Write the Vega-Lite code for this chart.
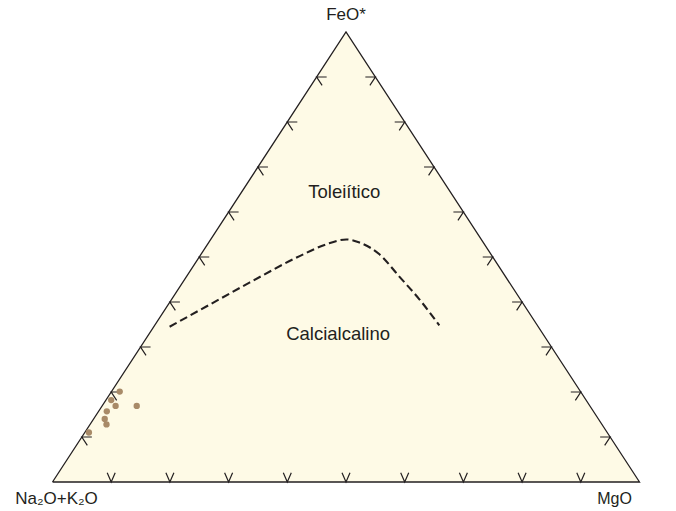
{
  "$schema": "https://vega.github.io/schema/vega-lite/v6.json",
  "width": 587,
  "height": 450,
  "autosize": "none",
  "padding": {"left": 52.5, "top": 32, "right": 36.5, "bottom": 29},
  "background": "white",
  "config": {"view": {"stroke": null}},
  "datasets": {
    "frame": [
      {"A": 100, "F": 0, "M": 0, "o": 0},
      {"A": 0, "F": 100, "M": 0, "o": 1},
      {"A": 0, "F": 0, "M": 100, "o": 2},
      {"A": 100, "F": 0, "M": 0, "o": 3}
    ],
    "ticks": [
      {"edge": "base", "F": 0, "M": 10}, {"edge": "base", "F": 0, "M": 20}, {"edge": "base", "F": 0, "M": 30},
      {"edge": "base", "F": 0, "M": 40}, {"edge": "base", "F": 0, "M": 50}, {"edge": "base", "F": 0, "M": 60},
      {"edge": "base", "F": 0, "M": 70}, {"edge": "base", "F": 0, "M": 80}, {"edge": "base", "F": 0, "M": 90},
      {"edge": "left", "F": 10, "M": 0}, {"edge": "left", "F": 20, "M": 0}, {"edge": "left", "F": 30, "M": 0},
      {"edge": "left", "F": 40, "M": 0}, {"edge": "left", "F": 50, "M": 0}, {"edge": "left", "F": 60, "M": 0},
      {"edge": "left", "F": 70, "M": 0}, {"edge": "left", "F": 80, "M": 0}, {"edge": "left", "F": 90, "M": 0},
      {"edge": "right", "F": 10, "M": 90}, {"edge": "right", "F": 20, "M": 80}, {"edge": "right", "F": 30, "M": 70},
      {"edge": "right", "F": 40, "M": 60}, {"edge": "right", "F": 50, "M": 50}, {"edge": "right", "F": 60, "M": 40},
      {"edge": "right", "F": 70, "M": 30}, {"edge": "right", "F": 80, "M": 20}, {"edge": "right", "F": 90, "M": 10}
    ],
    "boundary": [
      {"i": 0, "F": 34.5, "M": 2.7},
      {"i": 1, "F": 39.0, "M": 6.7},
      {"i": 2, "F": 44.3, "M": 11.4},
      {"i": 3, "F": 50.2, "M": 17.0},
      {"i": 4, "F": 52.8, "M": 20.2},
      {"i": 5, "F": 53.9, "M": 23.1},
      {"i": 6, "F": 53.2, "M": 25.7},
      {"i": 7, "F": 50.6, "M": 30.4},
      {"i": 8, "F": 45.7, "M": 36.2},
      {"i": 9, "F": 40.6, "M": 42.2},
      {"i": 10, "F": 34.8, "M": 48.5}
    ],
    "samples": [
      {"A": 78.5, "F": 20.1, "M": 1.4},
      {"A": 80.9, "F": 18.2, "M": 0.9},
      {"A": 80.8, "F": 16.9, "M": 2.3},
      {"A": 77.2, "F": 16.9, "M": 5.9},
      {"A": 82.9, "F": 15.7, "M": 1.4},
      {"A": 84.1, "F": 14.0, "M": 1.9},
      {"A": 84.4, "F": 12.8, "M": 2.8},
      {"A": 88.3, "F": 11.0, "M": 0.7}
    ],
    "fields": [
      {"label": "Toleiítico", "F": 64.4, "M": 17.5},
      {"label": "Calcialcalino", "F": 32.9, "M": 32.2}
    ]
  },
  "encoding": {
    "x": {"field": "x", "type": "quantitative", "scale": {"domain": [0, 100], "nice": false, "zero": false}, "axis": null},
    "y": {"field": "y", "type": "quantitative", "scale": {"domain": [0, 100], "nice": false, "zero": false}, "axis": null}
  },
  "layer": [
    {
      "data": {"name": "frame"},
      "transform": [
        {"filter": "datum.o < 3"},
        {"calculate": "datum.M + datum.F / 2", "as": "x"},
        {"calculate": "datum.F", "as": "y"}
      ],
      "mark": {"type": "area", "color": "#fefae6", "opacity": 1},
      "encoding": {"y2": {"datum": 0}}
    },
    {
      "data": {"name": "frame"},
      "transform": [
        {"calculate": "datum.M + datum.F / 2", "as": "x"},
        {"calculate": "datum.F", "as": "y"}
      ],
      "mark": {"type": "line", "color": "#231f20", "strokeWidth": 1.3, "strokeJoin": "miter"},
      "encoding": {"order": {"field": "o", "type": "quantitative"}}
    },
    {
      "data": {"name": "ticks"},
      "transform": [
        {"filter": "datum.edge === 'base'"},
        {"calculate": "datum.M + datum.F / 2", "as": "x"},
        {"calculate": "datum.F", "as": "y"}
      ],
      "mark": {"type": "point", "shape": "M -0.4 -0.92 L 0 0 L 0.4 -0.92", "filled": false, "color": "#231f20", "strokeWidth": 1.2, "size": 400, "opacity": 1}
    },
    {
      "data": {"name": "ticks"},
      "transform": [
        {"filter": "datum.edge === 'left'"},
        {"calculate": "datum.M + datum.F / 2", "as": "x"},
        {"calculate": "datum.F", "as": "y"}
      ],
      "mark": {"type": "point", "shape": "M 1 0 L 0 0 L 0.546 0.838", "filled": false, "color": "#231f20", "strokeWidth": 1.2, "size": 400, "opacity": 1}
    },
    {
      "data": {"name": "ticks"},
      "transform": [
        {"filter": "datum.edge === 'right'"},
        {"calculate": "datum.M + datum.F / 2", "as": "x"},
        {"calculate": "datum.F", "as": "y"}
      ],
      "mark": {"type": "point", "shape": "M -1 0 L 0 0 L -0.546 0.838", "filled": false, "color": "#231f20", "strokeWidth": 1.2, "size": 400, "opacity": 1}
    },
    {
      "data": {"name": "boundary"},
      "transform": [
        {"calculate": "datum.M + datum.F / 2", "as": "x"},
        {"calculate": "datum.F", "as": "y"}
      ],
      "mark": {"type": "line", "color": "#231f20", "strokeWidth": 2.1, "strokeDash": [8, 4], "interpolate": "monotone"},
      "encoding": {"order": {"field": "i", "type": "quantitative"}}
    },
    {
      "data": {"name": "samples"},
      "transform": [
        {"calculate": "datum.M + datum.F / 2", "as": "x"},
        {"calculate": "datum.F", "as": "y"}
      ],
      "mark": {"type": "circle", "color": "#a88a68", "size": 40, "opacity": 1}
    },
    {
      "data": {"name": "fields"},
      "transform": [
        {"calculate": "datum.M + datum.F / 2", "as": "x"},
        {"calculate": "datum.F", "as": "y"}
      ],
      "mark": {"type": "text", "font": "Liberation Sans", "fontSize": 18.5, "color": "#231f20", "align": "center", "baseline": "middle"},
      "encoding": {"text": {"field": "label"}}
    },
    {
      "data": {"values": [{"label": "FeO*", "F": 100, "M": 0}]},
      "transform": [
        {"calculate": "datum.M + datum.F / 2", "as": "x"},
        {"calculate": "datum.F", "as": "y"}
      ],
      "mark": {"type": "text", "font": "Liberation Sans", "fontSize": 17, "color": "#231f20", "align": "center", "baseline": "alphabetic", "dy": -12},
      "encoding": {"text": {"field": "label"}}
    },
    {
      "data": {"values": [{"label": "Na₂O+K₂O", "F": 0, "M": 0}]},
      "transform": [
        {"calculate": "datum.M + datum.F / 2", "as": "x"},
        {"calculate": "datum.F", "as": "y"}
      ],
      "mark": {"type": "text", "font": "Liberation Sans", "fontSize": 17, "color": "#231f20", "align": "center", "baseline": "alphabetic", "dx": 4, "dy": 22},
      "encoding": {"text": {"field": "label"}}
    },
    {
      "data": {"values": [{"label": "MgO", "F": 0, "M": 100}]},
      "transform": [
        {"calculate": "datum.M + datum.F / 2", "as": "x"},
        {"calculate": "datum.F", "as": "y"}
      ],
      "mark": {"type": "text", "font": "Liberation Sans", "fontSize": 16, "color": "#231f20", "align": "center", "baseline": "alphabetic", "dx": -25, "dy": 22},
      "encoding": {"text": {"field": "label"}}
    }
  ]
}
